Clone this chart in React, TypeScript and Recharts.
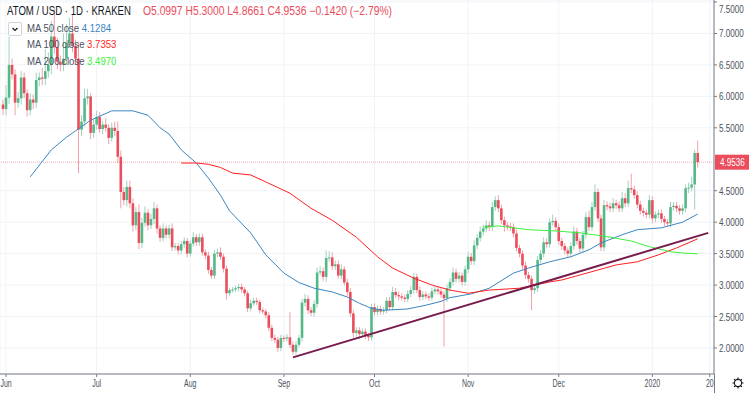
import React from 'react';
import { ComposedChart, Bar, Line, XAxis, YAxis, CartesianGrid, ReferenceLine } from 'recharts';

// day 0 = 1 Jun 2019; first candle is 31 May 2019
const FIRST_DAY = -1;
const firstOpen = 5.87;
const closes = [
  5.80, 5.98, 6.50, 6.35, 5.90, 5.97, 6.30, 6.05, 5.78, 5.95, 5.90,
  6.26, 6.30, 6.28, 6.40, 6.50, 6.95, 6.78, 6.55, 6.50, 6.60,
  6.85, 7.00, 6.80, 6.60, 5.47, 5.60, 5.97, 6.00, 5.42, 5.55,
  5.67, 5.48, 5.55, 5.50, 5.34, 5.50, 5.45, 5.04, 4.48, 4.35,
  4.56, 4.30, 3.95, 4.16, 3.67, 3.99, 4.15, 3.95, 4.05, 4.22,
  3.90, 3.75, 3.90, 3.80, 3.90, 3.60, 3.62, 3.55, 3.65, 3.70,
  3.50, 3.66, 3.76, 3.68, 3.76, 3.52, 3.47, 3.24, 3.15, 3.50,
  3.52, 3.45, 3.26, 2.87, 2.92, 2.93, 2.95, 2.97, 2.93, 2.87,
  2.63, 2.71, 2.75, 2.73, 2.60, 2.58, 2.52, 2.32, 2.16, 2.13,
  2.00, 2.16, 2.15, 2.17, 2.05, 1.94, 2.05, 2.16, 2.72, 2.78,
  2.60, 2.56, 2.70, 3.20, 3.22, 3.13, 3.43, 3.44, 3.30, 3.33,
  3.15, 3.25, 3.04, 2.89, 2.55, 2.24, 2.28, 2.22, 2.26, 2.20,
  2.17, 2.65, 2.57, 2.62, 2.58, 2.60, 2.75, 2.65, 2.89, 2.84,
  2.82, 2.80, 2.78, 2.86, 2.92, 3.13, 2.92, 2.81, 2.85, 2.82,
  2.80, 2.90, 2.93, 2.90, 2.85, 2.79, 2.95, 3.05, 3.20, 3.10,
  3.15, 3.05, 3.25, 3.45, 3.38, 3.63, 3.75, 3.85, 3.90, 3.95,
  3.92, 4.24, 4.35, 4.22, 4.03, 3.95, 3.93, 3.92, 3.82, 3.59,
  3.50, 3.31, 3.16, 3.10, 2.92, 2.95, 3.40, 3.50, 3.68, 3.65,
  4.00, 4.02, 3.92, 3.70, 3.62, 3.55, 3.50, 3.62, 3.85, 3.70,
  3.58, 3.80, 4.08, 3.92, 4.24, 4.48, 4.06, 3.60, 4.27, 4.25,
  4.22, 4.30, 4.27, 4.22, 4.38, 4.30, 4.54, 4.52, 4.43, 4.28,
  4.18, 4.15, 4.12, 4.35, 4.06, 4.12, 4.14, 4.05, 4.00, 3.98,
  4.24, 4.26, 4.22, 4.18, 4.22, 4.54, 4.55, 4.60, 5.0997, 4.9536,
];
const wickUp = [
  0.08, 0.20, 0.45, 0.10, 0.08, 0.10, 0.10, 0.08, 0.06, 0.10, 0.08,
  0.12, 0.08, 0.15, 0.35, 0.20, 0.25, 0.45, 0.15, 0.10, 0.40,
  0.30, 0.25, 0.30, 0.10, 0.25, 0.10, 0.15, 0.12, 0.05, 0.08,
  0.10, 0.08, 0.06, 0.10, 0.06, 0.08, 0.10, 0.15, 0.10, 0.08,
  0.10, 0.10, 0.08, 0.08, 0.12, 0.08, 0.10, 0.06, 0.08, 0.10,
  0.06, 0.05, 0.08, 0.05, 0.06, 0.08, 0.05, 0.05, 0.05, 0.06,
  0.05, 0.05, 0.08, 0.05, 0.06, 0.06, 0.05, 0.06, 0.05, 0.06,
  0.06, 0.08, 0.05, 0.05, 0.04, 0.04, 0.04, 0.05, 0.05, 0.04,
  0.04, 0.06, 0.05, 0.05, 0.04, 0.04, 0.04, 0.05, 0.05, 0.05,
  0.05, 0.05, 0.04, 0.05, 0.40, 0.05, 0.06, 0.05, 0.06, 0.08,
  0.06, 0.05, 0.06, 0.08, 0.08, 0.06, 0.12, 0.10, 0.08, 0.06,
  0.06, 0.08, 0.05, 0.06, 0.06, 0.05, 0.05, 0.05, 0.05, 0.05,
  0.04, 0.05, 0.06, 0.05, 0.05, 0.05, 0.06, 0.06, 0.08, 0.06,
  0.06, 0.05, 0.05, 0.06, 0.06, 0.06, 0.05, 0.06, 0.05, 0.05,
  0.05, 0.06, 0.05, 0.05, 0.05, 0.05, 0.06, 0.06, 0.08, 0.06,
  0.06, 0.05, 0.06, 0.08, 0.06, 0.08, 0.06, 0.08, 0.06, 0.08,
  0.06, 0.08, 0.06, 0.08, 0.06, 0.06, 0.05, 0.06, 0.06, 0.06,
  0.05, 0.05, 0.06, 0.05, 0.05, 0.05, 0.06, 0.06, 0.08, 0.06,
  0.06, 0.10, 0.06, 0.06, 0.05, 0.05, 0.05, 0.06, 0.08, 0.06,
  0.05, 0.06, 0.08, 0.10, 0.08, 0.12, 0.06, 0.06, 0.08, 0.06,
  0.06, 0.08, 0.06, 0.06, 0.10, 0.08, 0.12, 0.23, 0.06, 0.06,
  0.06, 0.05, 0.05, 0.08, 0.06, 0.05, 0.06, 0.06, 0.05, 0.05,
  0.08, 0.06, 0.06, 0.05, 0.06, 0.06, 0.08, 0.12, 0.05, 0.2003,
];
const wickDn = [
  0.10, 0.10, 0.10, 0.08, 0.20, 0.08, 0.10, 0.08, 0.10, 0.08, 0.10,
  0.08, 0.10, 0.10, 0.10, 0.10, 0.15, 0.10, 0.12, 0.10, 0.10,
  0.10, 0.08, 0.10, 0.10, 0.69, 0.10, 0.08, 0.10, 0.10, 0.08,
  0.08, 0.06, 0.08, 0.06, 0.10, 0.06, 0.08, 0.10, 0.26, 0.08,
  0.10, 0.08, 0.10, 0.08, 0.10, 0.08, 0.06, 0.08, 0.06, 0.08,
  0.08, 0.06, 0.06, 0.06, 0.06, 0.06, 0.05, 0.06, 0.06, 0.06,
  0.06, 0.05, 0.05, 0.06, 0.06, 0.05, 0.06, 0.06, 0.05, 0.05,
  0.06, 0.05, 0.06, 0.10, 0.05, 0.04, 0.04, 0.05, 0.05, 0.05,
  0.06, 0.05, 0.04, 0.05, 0.05, 0.04, 0.05, 0.05, 0.05, 0.05,
  0.06, 0.05, 0.05, 0.05, 0.05, 0.05, 0.05, 0.04, 0.06, 0.06,
  0.06, 0.05, 0.06, 0.06, 0.05, 0.06, 0.08, 0.06, 0.06, 0.06,
  0.05, 0.06, 0.05, 0.06, 0.06, 0.08, 0.06, 0.08, 0.05, 0.06,
  0.06, 0.05, 0.05, 0.05, 0.05, 0.05, 0.05, 0.05, 0.05, 0.05,
  0.06, 0.05, 0.05, 0.05, 0.05, 0.06, 0.05, 0.06, 0.05, 0.05,
  0.05, 0.05, 0.05, 0.05, 0.05, 0.77, 0.06, 0.05, 0.06, 0.06,
  0.06, 0.06, 0.06, 0.06, 0.06, 0.06, 0.06, 0.06, 0.06, 0.06,
  0.06, 0.06, 0.06, 0.06, 0.06, 0.10, 0.06, 0.06, 0.06, 0.06,
  0.06, 0.06, 0.06, 0.06, 0.32, 0.06, 0.06, 0.06, 0.06, 0.06,
  0.06, 0.06, 0.06, 0.06, 0.06, 0.06, 0.06, 0.06, 0.06, 0.06,
  0.06, 0.06, 0.06, 0.06, 0.06, 0.06, 0.06, 0.06, 0.06, 0.06,
  0.06, 0.06, 0.06, 0.06, 0.06, 0.06, 0.06, 0.06, 0.06, 0.06,
  0.06, 0.06, 0.06, 0.06, 0.08, 0.06, 0.06, 0.06, 0.06, 0.06,
  0.06, 0.06, 0.06, 0.06, 0.06, 0.06, 0.08, 0.06, 0.40, 0.0875,
];

const ma50Days = [8, 15, 20, 28, 35, 42, 47, 51, 54, 58, 63, 67, 71, 74, 81, 86, 92, 97, 102, 108, 113, 117, 121, 125, 133, 139, 144, 147, 154, 160, 168, 173, 180, 187, 193, 197, 204, 209, 217, 224, 229];
const ma50Vals = [4.72, 5.15, 5.35, 5.62, 5.77, 5.77, 5.70, 5.50, 5.40, 5.15, 4.94, 4.70, 4.43, 4.18, 3.83, 3.48, 3.19, 3.04, 2.95, 2.89, 2.81, 2.71, 2.63, 2.60, 2.62, 2.68, 2.74, 2.80, 2.86, 2.95, 3.19, 3.27, 3.37, 3.45, 3.56, 3.67, 3.80, 3.88, 3.91, 4.00, 4.1284];
const ma100Days = [58, 63, 67, 71, 75, 81, 86, 94, 101, 108, 116, 123, 128, 135, 141, 147, 153, 160, 170, 180, 184, 196, 202, 209, 216, 222, 229];
const ma100Vals = [4.94, 4.94, 4.92, 4.87, 4.78, 4.75, 4.64, 4.46, 4.22, 4.03, 3.76, 3.45, 3.27, 3.11, 3.00, 2.92, 2.87, 2.92, 2.95, 3.05, 3.08, 3.24, 3.32, 3.37, 3.48, 3.59, 3.7353];
const ma200Days = [158, 163, 168, 173, 182, 190, 199, 207, 213, 220, 224, 229];
const ma200Vals = [3.92, 3.94, 3.91, 3.88, 3.86, 3.83, 3.77, 3.70, 3.61, 3.53, 3.51, 3.497];

const xTicks = [0, 30, 61, 92, 122, 153, 183, 214, 233];
const xTickLabels = ['Jun', 'Jul', 'Aug', 'Sep', 'Oct', 'Nov', 'Dec', '2020', '20'];
const yTicks = [2, 2.5, 3, 3.5, 4, 4.5, 5.5, 6, 6.5, 7, 7.5];
const trendLine = [{ x: 95, y: 1.85 }, { x: 232.5, y: 3.83 }];
const lastPrice = 4.9536;

const UP = '#53b987';
const DN = '#eb4d5c';
const UP_WICK = '#9fd3bf';
const DN_WICK = '#f3a0a8';
const MA50_C = '#3b86c2';
const MA100_C = '#ff1f1f';
const MA200_C = '#3cf03c';
const FONT = '"Liberation Sans", Arial, sans-serif';

const data = closes.map((c, i) => {
  const d = FIRST_DAY + i;
  const open = i === 0 ? firstOpen : closes[i - 1];
  const high = Math.max(open, c) + wickUp[i];
  const low = Math.min(open, c) - wickDn[i];
  const row: any = { d, open, close: c, high, low, range: [low, high] };
  const a = ma50Days.indexOf(d);
  if (a >= 0) row.ma50 = ma50Vals[a];
  const b = ma100Days.indexOf(d);
  if (b >= 0) row.ma100 = ma100Vals[b];
  const e = ma200Days.indexOf(d);
  if (e >= 0) row.ma200 = ma200Vals[e];
  return row;
});

const Candle = (props: any) => {
  const { x, y, width, height, payload } = props;
  if (!payload || x == null || y == null) return null;
  const top = Math.min(y, y + height);
  const h = Math.abs(height);
  const { open, close, high, low } = payload;
  const up = close >= open;
  const cx = x + width / 2;
  const span = high - low;
  const toY = (p: number) => top + (span === 0 ? 0 : ((high - p) / span) * h);
  const yT = toY(Math.max(open, close));
  const yB = toY(Math.min(open, close));
  const bw = 2.6;
  return (
    <g>
      <line x1={cx} x2={cx} y1={top} y2={top + h} stroke={up ? UP_WICK : DN_WICK} strokeWidth={1} />
      <rect x={cx - bw / 2} y={yT} width={bw} height={Math.max(1, yB - yT)} fill={up ? UP : DN} />
    </g>
  );
};

const XTick = (props: any) => {
  const { x, y, payload } = props;
  const i = xTicks.indexOf(payload.value);
  return (
    <text transform={`translate(${x},${y + 8}) scale(0.7,1)`} textAnchor="middle" fontSize={10} fill="#4c525e" fontFamily={FONT}>
      {xTickLabels[i]}
    </text>
  );
};

const YTick = (props: any) => {
  const { x, y, payload } = props;
  return (
    <text transform={`translate(${x},${y + 4}) scale(0.74,1)`} textAnchor="start" fontSize={11} fill="#4c525e" fontFamily={FONT}>
      {Number(payload.value).toFixed(4)}
    </text>
  );
};

const PriceTag = (props: any) => {
  const vb = props.viewBox;
  if (!vb) return null;
  const yy = vb.y;
  const x0 = vb.x + vb.width + 1;
  return (
    <g>
      <rect x={x0} y={yy - 7.5} width={34} height={15} fill={DN} />
      <text transform={`translate(${x0 + 5},${yy + 4}) scale(0.74,1)`} fill="#fff" fontSize={11} fontFamily={FONT}>
        {lastPrice.toFixed(4)}
      </text>
    </g>
  );
};

const legendText = (left: number, top: number, size: number, color: string, scale: number, content: React.ReactNode) => (
  <div
    style={{
      position: 'absolute',
      left,
      top,
      fontSize: size,
      color,
      fontFamily: FONT,
      whiteSpace: 'nowrap',
      transform: `scaleX(${scale})`,
      transformOrigin: 'left top',
      lineHeight: 1,
    }}
  >
    {content}
  </div>
);

export default function App() {
  return (
    <div style={{ position: 'absolute', left: 0, top: 0, width: 750, height: 393, background: '#fff', overflow: 'hidden' }}>
      <ComposedChart width={750} height={393} data={data} margin={{ top: 0, right: 0, bottom: 0, left: 0 }}>
        <CartesianGrid stroke="#f0f3f8" strokeWidth={1} />
        <XAxis
          dataKey="d"
          type="number"
          domain={[-2, 234.4]}
          allowDataOverflow
          ticks={xTicks}
          height={19}
          tickSize={3}
          tickMargin={2}
          tick={<XTick />}
          axisLine={{ stroke: '#787b86' }}
          tickLine={{ stroke: '#787b86' }}
        />
        <YAxis
          orientation="right"
          type="number"
          domain={[1.586, 7.532]}
          allowDataOverflow
          ticks={yTicks}
          width={36}
          tickSize={3}
          tickMargin={2}
          tick={<YTick />}
          axisLine={{ stroke: '#787b86' }}
          tickLine={{ stroke: '#787b86' }}
        />
        <ReferenceLine y={lastPrice} stroke={DN} strokeOpacity={0.45} strokeDasharray="1 1" label={<PriceTag />} />
        <Bar dataKey="range" shape={<Candle />} isAnimationActive={false} barSize={3} />
        <Line dataKey="ma50" stroke={MA50_C} strokeWidth={1} dot={false} activeDot={false} connectNulls isAnimationActive={false} />
        <Line dataKey="ma100" stroke={MA100_C} strokeWidth={1} dot={false} activeDot={false} connectNulls isAnimationActive={false} />
        <Line dataKey="ma200" stroke={MA200_C} strokeWidth={1} dot={false} activeDot={false} connectNulls isAnimationActive={false} />
        <ReferenceLine segment={trendLine} stroke="#761c4c" strokeWidth={2} ifOverflow="visible" />
      </ComposedChart>

      {legendText(7, 5, 12, '#131722', 0.8, 'ATOM / USD · 1D · KRAKEN')}
      {legendText(143, 5, 12, DN, 0.86, 'O5.0997 H5.3000 L4.8661 C4.9536 −0.1420 (−2.79%)')}
      <div style={{ position: 'absolute', left: 8, top: 22, width: 12, height: 12, border: '1px solid #d1d4dc', borderRadius: 2, background: '#fff' }}>
        <svg width={12} height={12} style={{ position: 'absolute', left: 0, top: 0 }}>
          <polyline points="3.5,5 6,7.5 8.5,5" fill="none" stroke="#131722" strokeWidth={1.2} />
        </svg>
      </div>
      {legendText(27, 23, 11, '#4c525e', 0.87, <span>MA 50 close <span style={{ color: MA50_C }}>4.1284</span></span>)}
      {legendText(27, 39, 11, '#4c525e', 0.87, <span>MA 100 close <span style={{ color: MA100_C }}>3.7353</span></span>)}
      {legendText(27, 56, 11, '#4c525e', 0.87, <span>MA 200 close <span style={{ color: MA200_C }}>3.4970</span></span>)}

      <div style={{ position: 'absolute', left: 714, top: 374, width: 1, height: 19, background: '#787b86' }} />
      <svg width={14} height={14} style={{ position: 'absolute', left: 731, top: 376 }}>
        <circle cx={7} cy={7} r={3.6} fill="none" stroke="#131722" strokeWidth={1.1} />
        <path d="M7 1.5v2M7 10.5v2M1.5 7h2M10.5 7h2M3.1 3.1l1.4 1.4M9.5 9.5l1.4 1.4M3.1 10.9l1.4-1.4M9.5 4.5l1.4-1.4" stroke="#131722" strokeWidth={1.1} />
      </svg>
    </div>
  );
}
